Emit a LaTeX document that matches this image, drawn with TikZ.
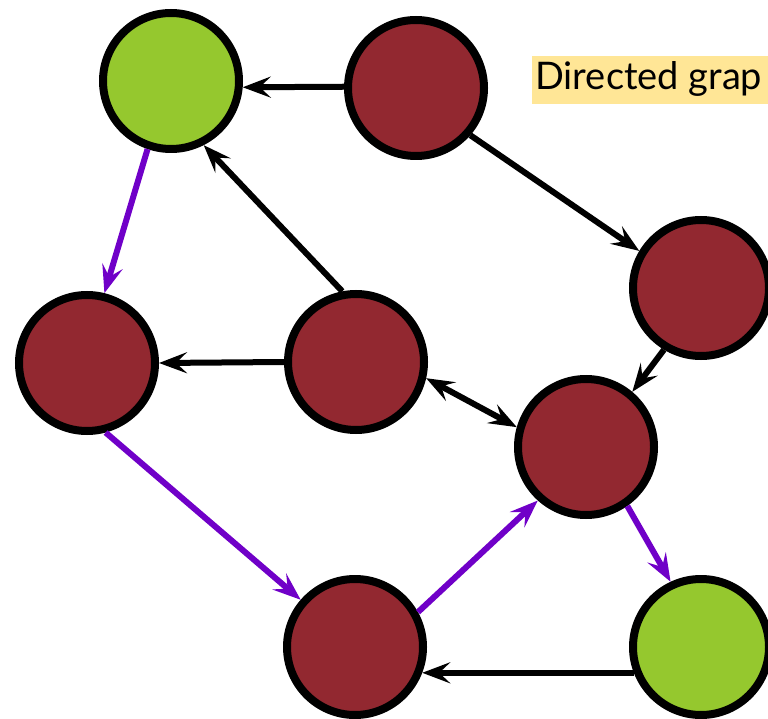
\documentclass[tikz,border=0pt]{standalone}
\usepackage{fontspec}
\setmainfont{Lato}
\usetikzlibrary{arrows.meta}
\definecolor{nodered}{RGB}{146,40,48}
\definecolor{nodegreen}{RGB}{149,200,46}
\definecolor{pathpurple}{RGB}{112,0,200}
\definecolor{labelyellow}{RGB}{255,230,150}
\begin{document}
\begin{tikzpicture}[x=1pt,y=-1pt,
  vertex/.style={circle, draw=black, line width=8pt, minimum size=136pt, inner sep=0pt},
  redv/.style={vertex, fill=nodered},
  greenv/.style={vertex, fill=nodegreen},
  edge/.style={line width=6pt, -{Stealth[length=28pt,width=21pt,inset=11pt]}},
  biedge/.style={line width=6pt, {Stealth[length=28pt,width=21pt,inset=11pt]}-{Stealth[length=28pt,width=21pt,inset=11pt]}},
  pathedge/.style={edge, draw=pathpurple},
  plainedge/.style={edge, draw=black}
]
\useasboundingbox (0,0) rectangle (768,719);

% vertices
\node[greenv] (A) at (171,81) {};
\node[redv]   (B) at (416,88) {};
\node[redv]   (C) at (701,288) {};
\node[redv]   (D) at (87,363) {};
\node[redv]   (E) at (356,362) {};
\node[redv]   (F) at (586,447) {};
\node[redv]   (G) at (355,647) {};
\node[greenv] (H) at (701,647) {};

% caption on its highlight band
\fill[labelyellow] (532,56) rectangle (768,104);
\node[anchor=west, inner sep=0pt, font=\fontsize{38}{44}\selectfont] (title) at (535,79) {Directed grap};

% black edges
\draw[plainedge] (B.179) -- (A.355);
\draw[plainedge] (B.319) -- (C.149);
\draw[plainedge] (C.239) -- (F.50);
\draw[plainedge] (E.101) -- (A.297);
\draw[plainedge] (E.180) -- (D.0);
\draw[biedge]    (E.347) -- (F.164);
\draw[plainedge] (H.201) -- (G.339);

% purple path
\draw[pathedge] (A.251) -- (D.76);
\draw[pathedge] (D.285) -- (G.139);
\draw[pathedge] (G.29) -- (F.228);
\draw[pathedge] (F.305) -- (H.115);
\end{tikzpicture}
\end{document}
